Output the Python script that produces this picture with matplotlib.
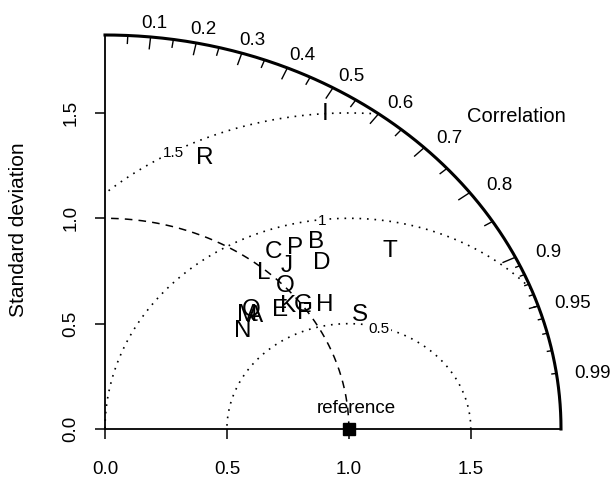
import matplotlib
matplotlib.use('Agg')
import matplotlib.pyplot as plt
import matplotlib.transforms as mtransforms
import numpy as np

plt.rcParams['font.family'] = ['Liberation Sans', 'DejaVu Sans']

# model labels, standard deviation and correlation with the reference
labels = list('ABCDEFGHIJKLMNOPQRST')
model_sd = [0.826, 1.248, 1.097, 1.197, 0.922, 0.996, 1.013, 1.086, 1.758, 1.083,
            0.962, 0.996, 0.804, 0.741, 1.011, 1.170, 0.833, 1.363, 1.185, 1.450]
model_corr = [0.745, 0.693, 0.629, 0.743, 0.779, 0.823, 0.803, 0.831, 0.513, 0.688,
              0.782, 0.652, 0.724, 0.764, 0.730, 0.666, 0.719, 0.301, 0.883, 0.806]

ref_sd = 1.0
max_sd = 1.87
sd_ticks = [0.0, 0.5, 1.0, 1.5]
corr_labels = [0.1, 0.2, 0.3, 0.4, 0.5, 0.6, 0.7, 0.8, 0.9, 0.95, 0.99]
gamma_levels = [0.5, 1.0, 1.5]

fig = plt.figure(figsize=(6.13, 4.79), dpi=100)
ax = fig.add_axes([105 / 613, 50 / 479, 456 / 613, 394 / 479])
ax.set_xlim(0, max_sd)
ax.set_ylim(0, max_sd)

for side in ['top', 'right']:
    ax.spines[side].set_visible(False)
for side in ['left', 'bottom']:
    ax.spines[side].set_linewidth(1.3)

ax.set_xticks(sd_ticks)
ax.set_yticks(sd_ticks)
ax.set_xticklabels([f'{t:.1f}' for t in sd_ticks])
ax.set_yticklabels([f'{t:.1f}' for t in sd_ticks], rotation=90, va='center')
ax.tick_params(axis='both', length=7.5, width=1.1, labelsize=13.5)
ax.tick_params(axis='x', pad=15.5)
ax.tick_params(axis='y', pad=11)
fig.text(19 / 613, 1 - 230 / 479, 'Standard deviation', rotation=90,
         ha='center', va='center', fontsize=15)


def cap_offset(fs):
    # shift text so the capital letters are centred on the point
    return mtransforms.offset_copy(ax.transData, fig=fig, x=0, y=-fs * 0.729 / 2, units='points')


# outer arc
th = np.linspace(0, np.pi / 2, 300)
ax.plot(max_sd * np.cos(th), max_sd * np.sin(th), color='black', lw=2.2, clip_on=False)

# reference sd arc
ax.plot(ref_sd * np.cos(th), ref_sd * np.sin(th), color='black', lw=1.1,
        linestyle=(0, (5, 4)), clip_on=False)

# centred RMS contours
th2 = np.linspace(0, np.pi, 600)
label_angles = [44 * 0.03, 56 * 0.03, 69 * 0.03]
for g, la in zip(gamma_levels, label_angles):
    gx = ref_sd + g * np.cos(th2)
    gy = g * np.sin(th2)
    keep = (gx >= 0) & (gx ** 2 + gy ** 2 <= max_sd ** 2)
    ax.plot(gx[keep], gy[keep], color='black', lw=1.2, linestyle=(0, (1, 3.5)), clip_on=False)
    ax.text(ref_sd + g * np.cos(la), g * np.sin(la), f'{g:g}', fontsize=11,
            ha='center', va='baseline', transform=cap_offset(11),
            bbox=dict(fc='white', ec='none', pad=1.0))

# correlation ticks
def corr_tick(vals, frac, lw):
    for c in vals:
        a = np.arccos(c)
        ax.plot([max_sd * np.cos(a), frac * max_sd * np.cos(a)],
                [max_sd * np.sin(a), frac * max_sd * np.sin(a)],
                color='black', lw=lw, clip_on=False)

corr_tick(np.arange(1, 10) / 10, 0.97, 1.0)
corr_tick(np.arange(0.05, 1.0, 0.1), 0.98, 1.0)
corr_tick(np.arange(91, 100) / 100, 0.99, 1.0)

for c in corr_labels:
    a = np.arccos(c)
    ax.text(1.08 * max_sd * np.cos(a), 1.04 * max_sd * np.sin(a), f'{c:g}',
            fontsize=13.5, ha='center', va='baseline', transform=cap_offset(13.5),
            clip_on=False)
ax.text(1.686, 1.49, 'Correlation', fontsize=14.5, ha='center', va='baseline',
        transform=cap_offset(14.5), clip_on=False)

# reference point
ax.plot([ref_sd], [0], marker='s', color='black', markersize=8, clip_on=False)
ax.text(1.03, 0.076, 'reference', fontsize=13.5, ha='center', va='baseline')

# model points drawn as letters
for lab, sd, c in zip(labels, model_sd, model_corr):
    a = np.arccos(c)
    ax.text(sd * np.cos(a), sd * np.sin(a), lab, fontsize=17.5, ha='center',
            va='baseline', transform=cap_offset(17.5))

fig.savefig('out.png', dpi=100)
